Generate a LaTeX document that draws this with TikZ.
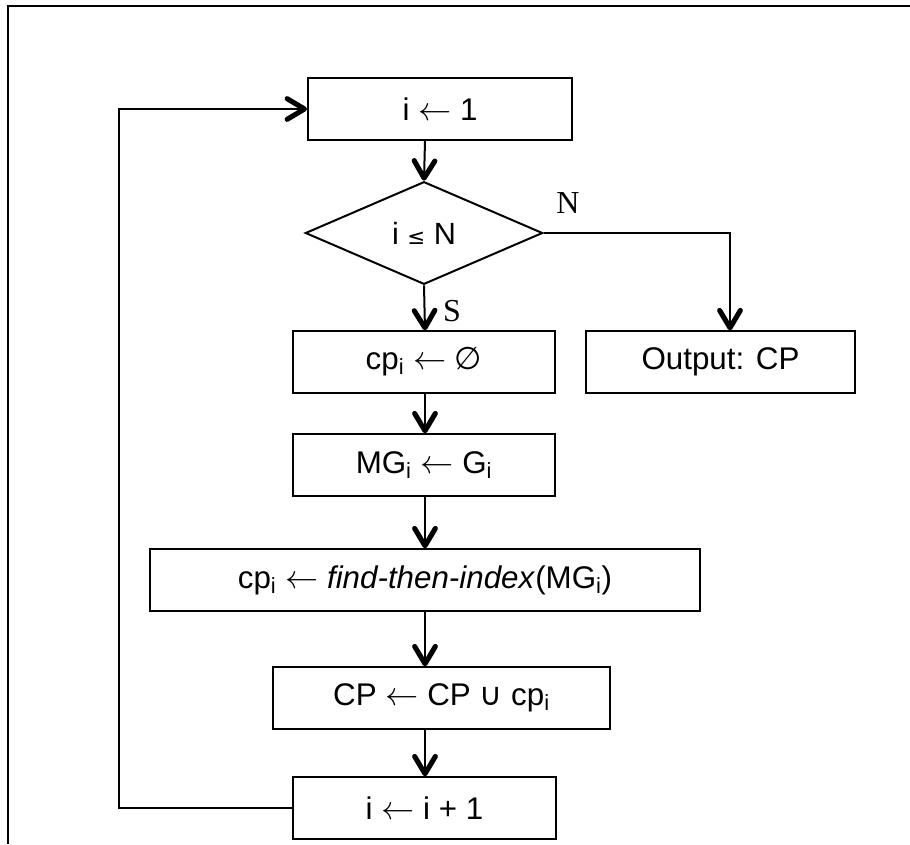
\documentclass[tikz,border=0pt]{standalone}
\usepackage{fontspec}
\setmainfont{Liberation Sans}
\newfontfamily\labelfont{Liberation Serif}
\newfontfamily\symfont{DejaVu Sans}
\usetikzlibrary{arrows.meta,shapes.geometric}
\newcommand{\sub}[1]{\textsubscript{#1}}
\newcommand{\assign}{\ensuremath{\leftarrow}}
\tikzset{
  stepbox/.style={draw, line width=1.5pt, rectangle, inner sep=0pt,
    minimum height=46pt, font=\fontsize{23.5}{28}\selectfont},
  testbox/.style={draw, line width=1.5pt, diamond, inner sep=0pt,
    minimum width=178pt, minimum height=77pt, aspect=2.33,
    font=\fontsize{23}{28}\selectfont},
  flow/.style={line width=1.5pt,
    -{Straight Barb[length=13pt,width=15.5pt,line width=3.8pt,round]}},
  branchlabel/.style={font=\labelfont\fontsize{24}{28}\selectfont}
}
\begin{document}
\begin{tikzpicture}[x=0.75pt,y=-0.75pt]
  \useasboundingbox (0,0) rectangle (910,844);
  % outer frame (top and left edges)
  \draw[line width=2pt] (8,844) -- (8,6) -- (910,6);

  % main column of the flow
  \coordinate (col) at (425,0);
  \coordinate (loopx) at (119,0);
  \coordinate (ncorner) at (730,233);

  \node[stepbox, minimum width=198pt] (init) at (440,109) {i \assign{} 1};
  \node[testbox] (test) at (424,233) {i {\symfont\fontsize{16}{20}\selectfont ≤} N};
  \node[stepbox, minimum width=196.5pt] (clear) at (424,362) {cp\sub{i} \assign{} {\symfont ∅}};
  \node[stepbox, minimum width=202pt] (output) at (720.5,362) {Output: CP};
  \node[stepbox, minimum width=196.5pt] (copy) at (424,465) {MG\sub{i} \assign{} G\sub{i}};
  \node[stepbox, minimum width=412pt] (find) at (425,580) {cp\sub{i} \assign{} \textit{find-then-index}(MG\sub{i})};
  \node[stepbox, minimum width=253pt] (union) at (441.5,698) {CP \assign{} CP {\symfont ∪} cp\sub{i}};
  \node[stepbox, minimum width=197pt] (incr) at (424.5,808) {i \assign{} i + 1};

  \node[branchlabel] (nlabel) at (568,203) {N};
  \node[branchlabel] (slabel) at (452,311) {S};

  % connectors
  \draw[flow] (init.south -| col) -- (test.north);
  \draw[flow] (test.south) -- (clear.north -| col);
  \draw[flow] (test.east) -- (ncorner) -- (ncorner |- output.north);
  \draw[flow] (clear.south -| col) -- (copy.north -| col);
  \draw[flow] (copy.south -| col) -- (find.north -| col);
  \draw[flow] (find.south -| col) -- (union.north -| col);
  \draw[flow] (union.south -| col) -- (incr.north -| col);
  \draw[flow] (incr.west) -- (incr.west -| loopx) -- (init.west -| loopx) -- (init.west);
\end{tikzpicture}
\end{document}
